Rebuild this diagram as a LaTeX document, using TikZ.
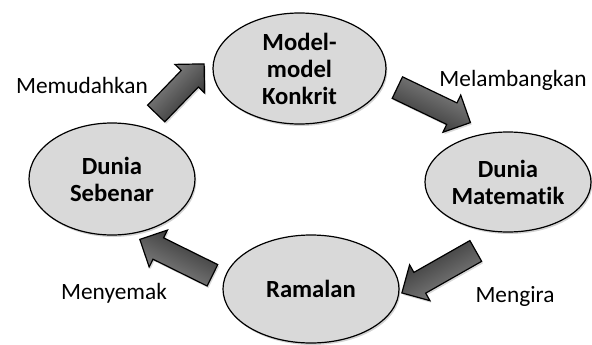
\documentclass[tikz,border=0pt]{standalone}
\usepackage{fontspec}
\setmainfont{Carlito}[Ligatures=NoCommon]
\usetikzlibrary{shapes.geometric, shapes.arrows, positioning, shadows}
\definecolor{bubblegray}{RGB}{217, 217, 217}
\definecolor{arrowdark}{RGB}{45, 45, 45}
\definecolor{arrowlight}{RGB}{140, 140, 140}

\begin{document}
\begin{tikzpicture}[
    x=0.75pt, y=0.75pt,
    world/.style={ellipse, draw, line width=0.9pt, fill=bubblegray, inner sep=0pt, align=center, drop shadow={opacity=0.35, shadow xshift=1pt, shadow yshift=-1.5pt}, font=\fontsize{18.5}{20.25}\selectfont\bfseries},
    blockarrow/.style={single arrow, draw, line width=0.9pt, minimum width=0pt, inner xsep=0pt, inner ysep=8.5pt, single arrow head extend=6.5pt, top color=arrowlight, bottom color=arrowdark, drop shadow={opacity=0.3, shadow xshift=1pt, shadow yshift=-1.5pt}},
    lbl/.style={font=\fontsize{17.5}{21}\selectfont}
]
    \useasboundingbox (0,0) rectangle (592,344);

    % Ellipses
    \node[world, minimum width=129.75pt, minimum height=83.25pt] (model) at (299.5,275.5) {Model-\\model\\Konkrit};
    \node[world, minimum width=124.5pt, minimum height=84pt] (sebenar) at (112,165) {Dunia\\Sebenar};
    \node[world, minimum width=124.5pt, minimum height=75pt] (matematik) at (508,162) {Dunia\\Matematik};
    \node[world, minimum width=132pt, minimum height=81pt] (ramalan) at (311,55) {Ramalan};

    % Block arrows
    \node[blockarrow, minimum height=51.75pt, rotate=46, shading angle=46] (memudah) at (176,251) {};
    \node[blockarrow, minimum height=60.75pt, rotate=-25.6, shading angle=-25.6] (lambang) at (428.5,241.5) {};
    \node[blockarrow, minimum height=63.75pt, rotate=209.6, shading angle=209.6] (kira) at (444,75) {};
    \node[blockarrow, minimum height=60.75pt, rotate=153.7, shading angle=153.7] (semak) at (181.5,84) {};

    % Labels
    \node[lbl] (lblmemudah) at (82,259) {Memudahkan};
    \node[lbl] (lbllambang) at (513,264) {Melambangkan};
    \node[lbl] (lblsemak) at (114,51) {Menyemak};
    \node[lbl] (lblkira) at (515,48) {Mengira};
\end{tikzpicture}
\end{document}
